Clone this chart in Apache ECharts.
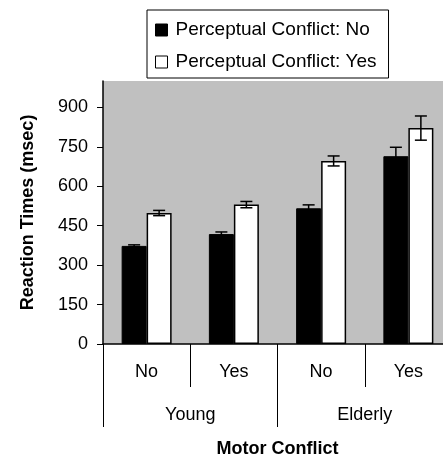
<!DOCTYPE html>
<html><head><meta charset="utf-8">
<script src="https://cdn.jsdelivr.net/npm/echarts@6/dist/echarts.min.js"></script>
<style>html,body{margin:0;padding:0;background:#fff}#c{width:443px;height:458px}</style>
</head><body><div id="c"></div>
<script>
const motorLabels = ['No', 'Yes', 'No', 'Yes'];
const groupLabels = ['Young', 'Elderly'];
const seriesNames = ['Perceptual Conflict: No', 'Perceptual Conflict: Yes'];
const rtNo = [373, 418, 516, 714];
const rtYes = [498, 530, 696, 821];
const errNo = [4, 8, 13, 34];
const errYes = [10, 12, 19, 46];
const yTicks = [0, 150, 300, 450, 600, 750, 900];

const FONT = 'Liberation Sans, Arial, sans-serif';
const chart = echarts.init(document.getElementById('c'), null, {renderer: 'canvas'});

function errSeries(vals, errs, shift) {
  return {
    type: 'custom',
    xAxisIndex: 0,
    z: 10,
    silent: true,
    data: vals.map((v, i) => [i, v - errs[i], v + errs[i]]),
    encode: {x: 0, y: [1, 2]},
    renderItem: function (params, api) {
      const idx = api.value(0);
      const lo = api.coord([idx, api.value(1)]);
      const hi = api.coord([idx, api.value(2)]);
      const bw = api.size([1, 0])[0];
      const x = lo[0] + shift * bw;
      const hw = 6;
      const st = {stroke: '#000', lineWidth: 1.5, fill: null};
      return {type: 'group', children: [
        {type: 'line', shape: {x1: x, y1: lo[1], x2: x, y2: hi[1]}, style: st},
        {type: 'line', shape: {x1: x - hw, y1: hi[1], x2: x + hw, y2: hi[1]}, style: st},
        {type: 'line', shape: {x1: x - hw, y1: lo[1], x2: x + hw, y2: lo[1]}, style: st}
      ]};
    }
  };
}

chart.setOption({
  animation: false,
  textStyle: {fontFamily: FONT},
  legend: {
    orient: 'vertical',
    left: 147, top: 10,
    padding: [10, 12, 6, 8],
    itemGap: 12,
    itemWidth: 12, itemHeight: 12,
    icon: 'rect',
    borderColor: '#000', borderWidth: 1,
    textStyle: {fontFamily: FONT, fontSize: 19, lineHeight: 20, color: '#000', padding: [0, 0, 0, 3]},
    data: [
      {name: seriesNames[0], itemStyle: {color: '#000', borderColor: '#000', borderWidth: 1}},
      {name: seriesNames[1], itemStyle: {color: '#fff', borderColor: '#000', borderWidth: 1}}
    ]
  },
  grid: {
    left: 103, top: 81, width: 349, height: 263,
    outerBoundsMode: 'none',
    containLabel: false,
    show: true, backgroundColor: '#c0c0c0', borderWidth: 0
  },
  xAxis: [{
    type: 'category',
    data: motorLabels,
    position: 'bottom',
    axisLine: {show: true, lineStyle: {color: '#000', width: 1.5}},
    axisTick: {show: true, length: 43, alignWithLabel: false, lineStyle: {color: '#000', width: 1}},
    axisLabel: {fontSize: 18, color: '#000', margin: 19, fontFamily: FONT}
  }, {
    type: 'category',
    data: groupLabels,
    position: 'bottom',
    offset: 43,
    axisLine: {show: false},
    axisTick: {show: true, length: 40, lineStyle: {color: '#000', width: 1}},
    axisLabel: {fontSize: 18, color: '#000', margin: 19, fontFamily: FONT},
    name: 'Motor Conflict',
    nameLocation: 'middle',
    nameGap: 53,
    nameTextStyle: {fontSize: 18, fontWeight: 'bold', color: '#000', fontFamily: FONT}
  }],
  yAxis: {
    type: 'value',
    min: 0, max: 1000, interval: 150,
    splitLine: {show: false},
    axisLine: {show: true, lineStyle: {color: '#000', width: 1.5}},
    axisTick: {show: true, length: 6, lineStyle: {color: '#000'}},
    axisLabel: {
      fontSize: 18, color: '#000', margin: 15, fontFamily: FONT,
      showMaxLabel: false,
      formatter: v => (yTicks.indexOf(v) >= 0 ? String(v) : '')
    },
    name: 'Reaction Times (msec)',
    nameLocation: 'middle',
    nameGap: 66,
    nameTextStyle: {fontSize: 18, fontWeight: 'bold', color: '#000', fontFamily: FONT}
  },
  series: [
    {
      name: seriesNames[0], type: 'bar', xAxisIndex: 0,
      data: rtNo, barWidth: 25, barGap: '0%',
      itemStyle: {color: '#000', borderColor: '#000', borderWidth: 1}
    },
    {
      name: seriesNames[1], type: 'bar', xAxisIndex: 0,
      data: rtYes, barWidth: 25, barGap: '0%',
      itemStyle: {color: '#fff', borderColor: '#000', borderWidth: 1.5}
    },
    errSeries(rtNo, errNo, -12.5 / 87.25),
    errSeries(rtYes, errYes, 12.5 / 87.25)
  ]
});
</script></body></html>
